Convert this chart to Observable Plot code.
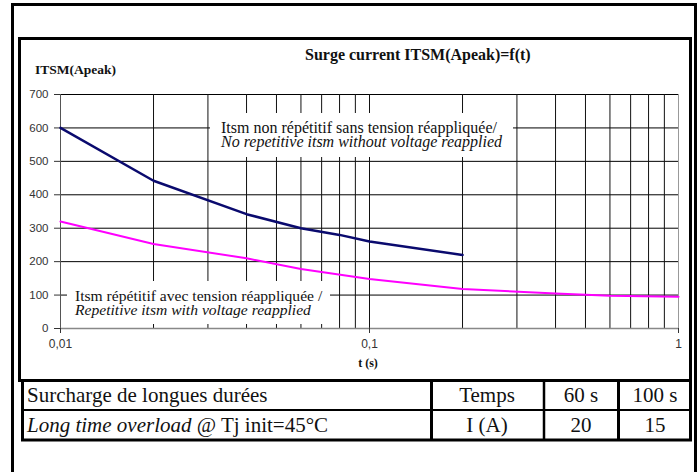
<!DOCTYPE html>
<html><head><meta charset="utf-8">
<script src="https://cdn.jsdelivr.net/npm/d3@7"></script>
<script src="https://cdn.jsdelivr.net/npm/@observablehq/plot@0.6"></script>
<style>
body{margin:0;background:#fff}
#chart{position:relative;width:700px;height:472px;overflow:hidden}
</style>
</head><body><div id="chart"></div>
<script>
// ---- data ----
const tNonRep = [0.01, 0.02, 0.04, 0.06, 0.08, 0.1, 0.2];
const iNonRep = [600, 442, 342, 300, 280, 260, 220];
const tRep = [0.01, 0.02, 0.04, 0.06, 0.1, 0.2, 0.4, 0.6, 1];
const iRep = [320, 253, 210, 178, 148, 118, 105, 98, 95];
const yTicks = [0, 100, 200, 300, 400, 500, 600, 700];
const xMajor = [0.01, 0.1, 1];
const xMinor = [0.02, 0.03, 0.04, 0.05, 0.06, 0.07, 0.08, 0.09, 0.2, 0.3, 0.4, 0.5, 0.6, 0.7, 0.8, 0.9];
const chartTitle = "Surge current ITSM(Apeak)=f(t)";
const yLabel = "ITSM(Apeak)";
const xLabel = "t (s)";
const noteNonRep = ["Itsm non répétitif sans tension réappliquée/", "No repetitive itsm without voltage reapplied"];
const noteRep = ["Itsm répétitif avec tension réappliquée /", "Repetitive itsm with voltage reapplied"];
const tableHeadFR = "Surcharge de longues durées";
const tableHeadEN = "Long time overload";
const tableHeadCond = " @ Tj init=45°C";
const tableRowLabels = ["Temps", "I (A)"];
const tableTimes = ["60 s", "100 s"];
const tableCurrents = ["20", "15"];

const nonRep = tNonRep.map((t, k) => ({t, i: iNonRep[k]}));
const rep = tRep.map((t, k) => ({t, i: iRep[k]}));

const plot = Plot.plot({
  width: 700, height: 472,
  marginLeft: 60, marginRight: 22, marginTop: 94, marginBottom: 144,
  x: {type: "log", domain: [0.01, 1]},
  y: {domain: [0, 700]},
  style: {fontFamily: "Liberation Sans, Arial, sans-serif", fontSize: "11px", background: "white", color: "#222"},
  marks: [
    Plot.ruleY(yTicks.slice(1), {stroke: "#000", strokeWidth: 1}),
    Plot.ruleX(xMinor, {stroke: "#111", strokeWidth: 1}),
    Plot.ruleX([0.1], {stroke: "#111", strokeWidth: 1}),
    Plot.ruleX([1], {stroke: "#999", strokeWidth: 1}),
    Plot.ruleX([0.01], {stroke: "#555", strokeWidth: 1}),
    Plot.ruleY([0], {stroke: "#888", strokeWidth: 1.5}),
    Plot.axisY(yTicks, {tickSize: 6, tickPadding: 6, fontSize: 11.5, color: "#333", label: null}),
    Plot.axisX(xMajor, {tickSize: 5, tickPadding: 6, fontSize: 12, color: "#333", label: null,
      tickFormat: d => String(d).replace(".", ",")}),
    Plot.line(nonRep, {x: "t", y: "i", stroke: "#0a0a6e", strokeWidth: 2.5}),
    Plot.line(rep, {x: "t", y: "i", stroke: "#ff00ff", strokeWidth: 2})
  ]
});

document.getElementById("chart").appendChild(plot);

// ---- decorations (frames, notes, titles, table) ----
const svg = d3.select(plot);
const serif = "'Liberation Serif', 'Times New Roman', serif";
const g = svg.append("g").attr("text-anchor", "start");

function txt(sel, x, y, size, s) {
  return sel.append("text").attr("x", x).attr("y", y).attr("text-anchor", "start")
    .style("font-family", serif).attr("font-size", size).attr("fill", "#111").text(s);
}

// note boxes hiding the grid
function note(x0, y0, w, h, tx, b1, b2, size, lines) {
  g.append("rect").attr("x", x0).attr("y", y0).attr("width", w).attr("height", h).attr("fill", "#fff");
  txt(g, tx, b1, size, lines[0]);
  txt(g, tx, b2, size, lines[1]).attr("font-style", "italic");
}
note(210, 113, 303, 44, 221, 133, 147, 16, noteNonRep);
note(67, 281, 263, 43, 75, 300.5, 314.5, 15.6, noteRep);

// titles
txt(g, 305, 60, 16, chartTitle).attr("font-weight", "bold");
txt(g, 35, 74, 13.5, yLabel).attr("font-weight", "bold");
txt(g, 368, 367, 12, xLabel).attr("font-weight", "bold").attr("text-anchor", "middle");

// frames
g.append("rect").attr("x", 12.5).attr("y", 4.5).attr("width", 683).attr("height", 520).attr("fill", "none").attr("stroke", "#000").attr("stroke-width", 3);
g.append("rect").attr("x", 19.5).attr("y", 38.5).attr("width", 671).attr("height", 342).attr("fill", "none").attr("stroke", "#000").attr("stroke-width", 3);

// table
const tb = g.append("g");
tb.append("rect").attr("x", 22.5).attr("y", 380.5).attr("width", 668).attr("height", 59.5).attr("fill", "#fff").attr("stroke", "#000").attr("stroke-width", 3);
[[431.5, 3], [544, 2.5], [618.5, 3]].forEach(([x, w]) =>
  tb.append("line").attr("x1", x).attr("x2", x).attr("y1", 380).attr("y2", 440).attr("stroke", "#000").attr("stroke-width", w));
tb.append("line").attr("x1", 22).attr("x2", 690).attr("y1", 410).attr("y2", 410).attr("stroke", "#000").attr("stroke-width", 2);
txt(tb, 27, 402, 21, tableHeadFR);
const r2 = txt(tb, 27, 432, 21, "");
r2.append("tspan").attr("font-style", "italic").text(tableHeadEN);
r2.append("tspan").text(tableHeadCond);
const cx = [487, 581, 655];
[[tableRowLabels[0], ...tableTimes], [tableRowLabels[1], ...tableCurrents]].forEach((row, r) =>
  row.forEach((s, c) => txt(tb, cx[c], r ? 432 : 402, 21, s).attr("text-anchor", "middle")));
</script>
</body></html>
